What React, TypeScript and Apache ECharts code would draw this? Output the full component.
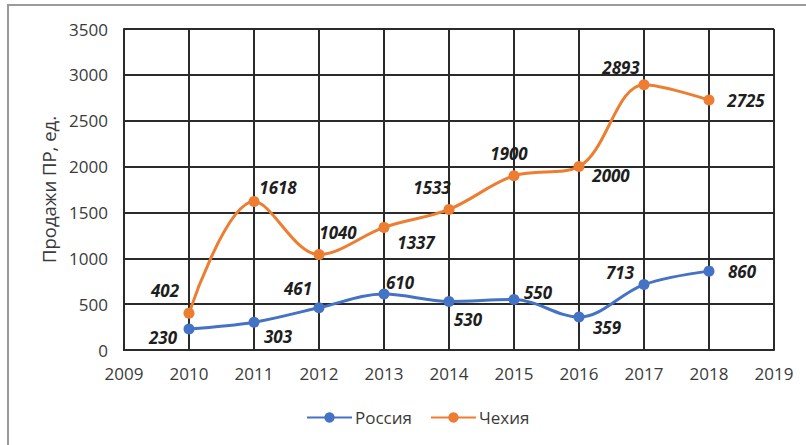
import React, { useEffect, useRef } from "react";
import * as echarts from "echarts";

const years = [2010, 2011, 2012, 2013, 2014, 2015, 2016, 2017, 2018];
const russia = [230, 303, 461, 610, 530, 550, 359, 713, 860];
const czech = [402, 1618, 1040, 1337, 1533, 1900, 2000, 2893, 2725];
const russiaLabelOffsets = [
  [-26, 9], [24, 14], [-21, -19], [16, -12], [19, 18], [24, -7], [28, 10], [-24, -12], [33, 0],
];
const czechLabelOffsets = [
  [-24, -23], [24, -14], [19, -22], [32, 15], [-17, -22], [-5, -22], [32, 9], [-23, -17], [37, 0],
];
const seriesNames = ["Россия", "Чехия"];
const yAxisName = "Продажи ПР, ед.";

const FONT = "Open Sans";

function build(values: number[], offsets: number[][]) {
  return values.map((v, i) => ({
    value: [years[i], v],
    label: { offset: offsets[i] },
  }));
}

export default function App() {
  const ref = useRef<HTMLDivElement>(null);
  useEffect(() => {
    document.body.style.margin = "0";
    const chart = echarts.init(ref.current!, null, { renderer: "svg" });
    const labelStyle = {
      show: true,
      position: "inside",
      formatter: (p: any) => String(p.value[1]),
      fontFamily: FONT,
      fontSize: 17,
      fontWeight: "bold",
      fontStyle: "italic",
      color: "#1e1e1e",
    };
    const axisText = {
      fontFamily: FONT,
      fontSize: 17,
      color: "#3a3a3a",
    };
    chart.setOption({
      animation: false,
      backgroundColor: "#fff",
      graphic: [
        {
          type: "rect",
          shape: { x: 8, y: 5, width: 830, height: 470 },
          style: { fill: "none", stroke: "#9a9a9a", lineWidth: 2 },
          silent: true,
        },
      ],
      grid: { left: 124, right: 32, top: 29, bottom: 95 },
      legend: {
        bottom: 14,
        left: 301,
        itemWidth: 45,
        itemHeight: 13,
        itemGap: 18,
        textStyle: { fontFamily: FONT, fontSize: 17, color: "#3a3a3a", padding: [0, 0, 0, -2] },
        data: seriesNames,
      },
      xAxis: {
        type: "value",
        min: 2009,
        max: 2019,
        interval: 1,
        axisLine: { show: true, lineStyle: { color: "#2a2a2a", width: 2 } },
        axisTick: { show: false },
        splitLine: { show: true, lineStyle: { color: "#2a2a2a", width: 2 } },
        axisLabel: {
          formatter: (v: number) => String(v),
          ...axisText,
          margin: 15,
        },
      },
      yAxis: {
        type: "value",
        min: 0,
        max: 3500,
        interval: 500,
        name: yAxisName,
        nameLocation: "middle",
        nameGap: 64,
        nameTextStyle: { fontFamily: FONT, fontSize: 18.5, color: "#3a3a3a" },
        axisLine: { show: true, lineStyle: { color: "#2a2a2a", width: 2 } },
        axisTick: { show: false },
        splitLine: { show: true, lineStyle: { color: "#2a2a2a", width: 2 } },
        axisLabel: {
          formatter: (v: number) => String(v),
          ...axisText,
          margin: 16,
        },
      },
      series: [
        {
          name: seriesNames[0],
          type: "line",
          smooth: 0.35,
          symbol: "circle",
          symbolSize: 11,
          color: "#4472C4",
          lineStyle: { width: 3, color: "#4472C4" },
          itemStyle: { color: "#4472C4" },
          label: labelStyle,
          data: build(russia, russiaLabelOffsets),
          z: 3,
        },
        {
          name: seriesNames[1],
          type: "line",
          smooth: 0.35,
          symbol: "circle",
          symbolSize: 11,
          color: "#ED7D31",
          lineStyle: { width: 3, color: "#ED7D31" },
          itemStyle: { color: "#ED7D31" },
          label: labelStyle,
          data: build(czech, czechLabelOffsets),
          z: 3,
        },
      ],
    });
    return () => chart.dispose();
  }, []);
  return <div ref={ref} style={{ width: 806, height: 445 }} />;
}
